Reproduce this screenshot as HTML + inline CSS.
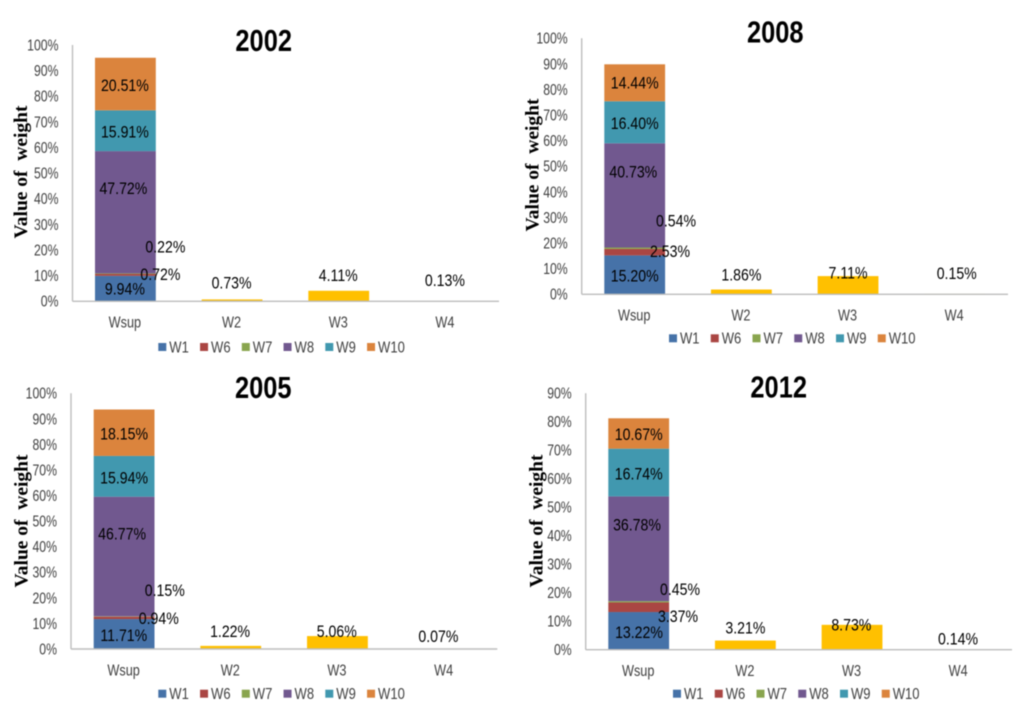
<!DOCTYPE html>
<html lang="en">
<head>
<meta charset="utf-8">
<title>Value of weight by year</title>
<style>
  html, body { margin: 0; padding: 0; background: #fff; }
  #figure { display: block; filter: blur(0.45px); }
  text { font-family: "Liberation Sans", sans-serif; }
  .y-title { font-family: "Liberation Serif", serif; font-weight: bold; white-space: pre; }
</style>
</head>
<body>
<svg id="figure" xmlns="http://www.w3.org/2000/svg" width="1024" height="716" viewBox="0 0 1024 716">
  <rect x="0" y="0" width="1024" height="716" fill="#ffffff"></rect>
</svg>
<script>
const categories = ['Wsup', 'W2', 'W3', 'W4'];
const stackSeries = ['W1', 'W6', 'W7', 'W8', 'W9', 'W10'];
const ticksTo100 = [0, 10, 20, 30, 40, 50, 60, 70, 80, 90, 100];
const ticksTo90 = [0, 10, 20, 30, 40, 50, 60, 70, 80, 90];

const stack2002 = [9.94, 0.72, 0.22, 47.72, 15.91, 20.51];
const others2002 = [0.73, 4.11, 0.13];
const stack2005 = [11.71, 0.94, 0.15, 46.77, 15.94, 18.15];
const others2005 = [1.22, 5.06, 0.07];
const stack2008 = [15.20, 2.53, 0.54, 40.73, 16.40, 14.44];
const others2008 = [1.86, 7.11, 0.15];
const stack2012 = [13.22, 3.37, 0.45, 36.78, 16.74, 10.67];
const others2012 = [3.21, 8.73, 0.14];

const seriesColors = ['#4672a8', '#aa4643', '#89a54e', '#71588f', '#4198af', '#db843d'];
const otherColor = '#ffc000';

const panels = [
  { year: '2002', stack: stack2002, others: others2002, ticks: ticksTo100,
    axisX: 72.5, top: 45, base: 301.3, right: 499, barLeft: 95, titleX: 263.7, titleY: 40,
    yTitleX: 21, yTitleY: 172, legendX: 158.3, legendY: 347,
    stackNudge: [[-0.5, 0], [35, -1], [40, -27], [-2, -24], [-0.5, 1], [-0.5, 1]],
    otherNudge: [[-0.5, -17], [-0.5, -15.5], [-0.5, -21]] },
  { year: '2008', stack: stack2008, others: others2008, ticks: ticksTo100,
    axisX: 581.7, top: 38.3, base: 294.3, right: 1008, barLeft: 604.3, titleX: 775.3, titleY: 31.7,
    yTitleX: 532.7, yTitleY: 165, legendX: 669, legendY: 338.3,
    stackNudge: [[0, 0.5], [35.3, -1], [41.3, -27.5], [-1.4, -24], [0, 1], [0, 0]],
    otherNudge: [[0, -15], [0, -3.5], [2, -21]] },
  { year: '2005', stack: stack2005, others: others2005, ticks: ticksTo100,
    axisX: 71, top: 393.3, base: 649, right: 497.3, barLeft: 93.7, titleX: 263.3, titleY: 387.3,
    yTitleX: 21.7, yTitleY: 521, legendX: 158.3, legendY: 693.7,
    stackNudge: [[-0.3, 1], [34.7, 0], [40.7, -26.5], [-2, -23], [0, 1.4], [0, 1]],
    otherNudge: [[-0.7, -15], [-0.7, -5], [-5.7, -13]] },
  { year: '2012', stack: stack2012, others: others2012, ticks: ticksTo90,
    axisX: 585.7, top: 393.3, base: 649.7, right: 1012, barLeft: 608.3, titleX: 778.7, titleY: 386.7,
    yTitleX: 536.3, yTitleY: 521, legendX: 673, legendY: 693.7,
    stackNudge: [[0.3, 1], [39.3, 9], [41.3, -12.5], [-1.7, -24], [0, 1], [0, 0.5]],
    otherNudge: [[0, -13], [-0.7, -0.5], [-0.7, -11]] }
];

const BAR_WIDTH = 60.8;
const CATEGORY_STEP = 106.67;
const LEGEND_STEP = 41.75;
const NS = 'http://www.w3.org/2000/svg';
const root = document.getElementById('figure');

function node(tag, parent, attrs) {
  const el = document.createElementNS(NS, tag);
  for (const key in attrs) el.setAttribute(key, attrs[key]);
  parent.appendChild(el);
  return el;
}

function label(parent, content, x, y, size, fill, anchor, squeeze, weight) {
  const el = node('text', parent, {
    x: x, y: y + size * 0.35, 'font-size': size, fill: fill, 'text-anchor': anchor
  });
  if (weight) el.setAttribute('font-weight', weight);
  el.textContent = content;
  el.setAttribute('lengthAdjust', 'spacingAndGlyphs');
  el.setAttribute('textLength', (el.getComputedTextLength() * squeeze).toFixed(2));
  return el;
}

function yScale(panel, value) {
  const maxTick = panel.ticks[panel.ticks.length - 1];
  return panel.base - (value / maxTick) * (panel.base - panel.top);
}

function categoryCenter(panel, index) {
  return panel.barLeft + BAR_WIDTH / 2 + index * CATEGORY_STEP;
}

function percent(value) {
  return value.toFixed(2) + '%';
}

function drawPanel(panel) {
  const group = node('g', root, {});
  
  

  const title = label(group, panel.year, panel.titleX, panel.titleY, 31, '#000000', 'middle', 0.82, 'bold');
  
  

  const yTitle = node('text', group, {
    class: 'y-title', x: 0, y: 0, 'font-size': 19, fill: '#000000', 'text-anchor': 'middle',
    transform: 'translate(' + (panel.yTitleX + 6) + ' ' + panel.yTitleY + ') rotate(-90)',
    textLength: 133, lengthAdjust: 'spacingAndGlyphs'
  });
  yTitle.textContent = 'Value of  weight';
  
  

  panel.ticks.forEach(function (tick) {
    const tickLabel = label(group, tick + '%', panel.axisX - 14, yScale(panel, tick), 15.5, '#404040', 'end', 0.79);
    
    
  });

  const yAxis = node('line', group, {
    x1: panel.axisX, x2: panel.axisX, y1: panel.top, y2: panel.base, stroke: '#bdbdbd', 'stroke-width': 1.4
  });
  
  

  // stacked column
  let running = 0;
  const stackCenters = [];
  panel.stack.forEach(function (value, i) {
    const yTop = yScale(panel, running + value);
    const yBottom = yScale(panel, running);
    const seg = node('rect', group, {
      x: panel.barLeft, y: yTop, width: BAR_WIDTH, height: yBottom - yTop, fill: seriesColors[i]
    });
    
    
    stackCenters.push((yTop + yBottom) / 2);
    running += value;
  });

  // single-series columns
  panel.others.forEach(function (value, i) {
    const yTop = yScale(panel, value);
    const bar = node('rect', group, {
      x: categoryCenter(panel, i + 1) - BAR_WIDTH / 2, y: yTop, width: BAR_WIDTH,
      height: panel.base - yTop, fill: otherColor
    });
    
    
  });

  const xAxis = node('line', group, {
    x1: panel.axisX, x2: panel.right, y1: panel.base, y2: panel.base, stroke: '#bdbdbd', 'stroke-width': 1.4
  });
  
  

  categories.forEach(function (name, i) {
    const catLabel = label(group, name, categoryCenter(panel, i) - 0.5, panel.base + 21, 15.5, '#404040', 'middle', 0.82);
    
    
  });

  // value labels
  panel.stack.forEach(function (value, i) {
    const nudge = panel.stackNudge[i];
    const valueLabel = label(group, percent(value), categoryCenter(panel, 0) + nudge[0], stackCenters[i] + nudge[1], 17, '#000000', 'middle', 0.83);
    
    
  });
  panel.others.forEach(function (value, i) {
    const nudge = panel.otherNudge[i];
    const valueLabel = label(group, percent(value), categoryCenter(panel, i + 1) + nudge[0], yScale(panel, value) + nudge[1], 17, '#000000', 'middle', 0.83);
    
    
  });

  // legend
  const legend = node('g', group, {});
  
  
  stackSeries.forEach(function (name, i) {
    const entryX = panel.legendX + i * LEGEND_STEP;
    const swatch = node('rect', legend, {
      x: entryX, y: panel.legendY - 4, width: 8, height: 8, fill: seriesColors[i]
    });
    
    
    const entry = label(legend, name, entryX + 11, panel.legendY, 15.5, '#404040', 'start', 0.84);
    
    
  });
}

panels.forEach(drawPanel);
</script>
</body>
</html>
